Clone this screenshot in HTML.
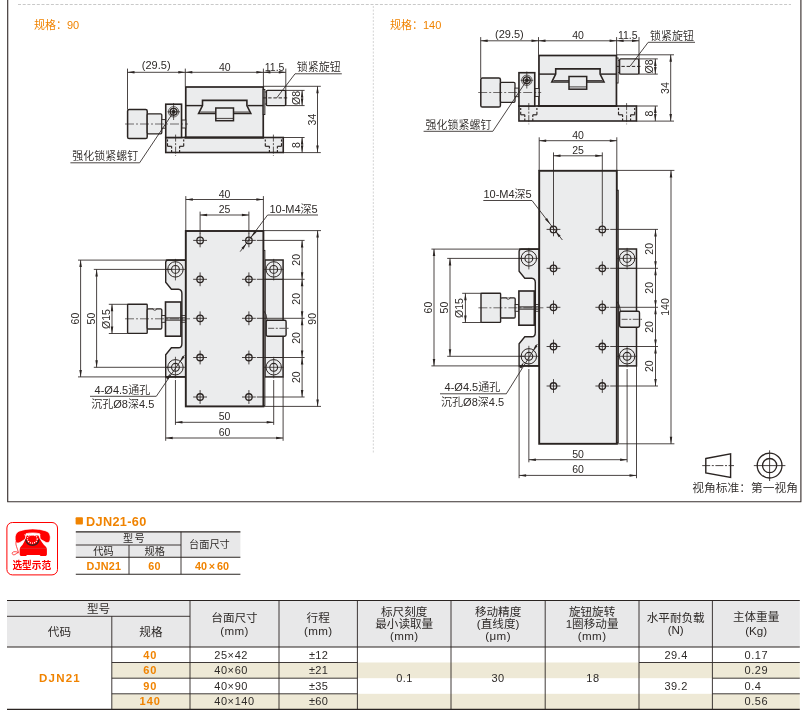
<!DOCTYPE html>
<html lang="zh-CN"><head><meta charset="utf-8"><title>DJN21</title>
<style>html,body{margin:0;padding:0;background:#fff}body{width:808px;height:720px;overflow:hidden}svg{display:block;will-change:transform}</style>
</head><body>
<svg width="808" height="720" viewBox="0 0 808 720" font-family='"Liberation Sans","Noto Sans CJK SC",sans-serif' stroke="#2a2422" fill="none">
<rect width="808" height="720" fill="#fff" stroke="none"/>
<path d="M7.7 0V501.7H800.9V0" fill="none" stroke="#3a3230" stroke-width="1.15" stroke-linejoin="round"/>
<path d="M18 4.5H791" stroke="#c9c9c9" stroke-width="1.1" stroke-dasharray="3 1.7"/>
<path d="M373.3 6V453" stroke="#d4d4d4" stroke-width="1.0" stroke-dasharray="2 1.5"/>
<text x="34.00" y="29.20" font-size="11" text-anchor="start" fill="#f08300" stroke="none" >规格：90</text>
<text x="390.00" y="29.20" font-size="11" text-anchor="start" fill="#f08300" stroke="none" >规格：140</text>
<g>
<rect x="165.75" y="137.5" width="117.5" height="15" fill="#ebeced" stroke-width="1.6"/>
<rect x="185.75" y="87" width="77.5" height="50.5" fill="#ebeced" stroke-width="1.7"/>
<path d="M184.50 137.50L264.00 137.50" stroke-width="2.0" />
<rect x="263.25" y="89.5" width="1.6" height="25" fill="#ebeced" stroke-width="1.0"/>
<path d="M185.75 105.60L202.00 105.60" stroke-width="1.45" />
<path d="M247.60 105.60L263.25 105.60" stroke-width="1.45" />
<path d="M202.5 100.4H246.9V105.6L250.8 113.5H198.6L202.5 105.6Z" fill="#ebeced" stroke-width="1.6"/>
<path d="M200.30 112.00L249.20 112.00" stroke-width="0.85" />
<rect x="215.8" y="108" width="17.7" height="12.7" fill="#ebeced" stroke-width="1.5"/>
<path d="M215.80 118.40L233.50 118.40" stroke-width="0.85" />
<rect x="127.6" y="109.5" width="19.6" height="29" rx="1.6" fill="#ebeced" stroke-width="1.5"/>
<rect x="147.2" y="113.8" width="14.6" height="20" rx="1.2" fill="#ebeced" stroke-width="1.3"/>
<rect x="161.8" y="119.6" width="4" height="8.6" fill="#ebeced" stroke-width="0.9"/>
<rect x="181.6" y="120" width="4.2" height="8" fill="#ebeced" stroke-width="0.9"/>
<rect x="165.75" y="104.2" width="15.8" height="33.3" fill="#ebeced" stroke-width="1.6"/>
<circle cx="173.6" cy="111.8" r="5.2" fill="none" stroke-width="0.7"/>
<circle cx="173.6" cy="111.8" r="3.4" fill="none" stroke-width="1.4"/>
<circle cx="173.6" cy="111.8" r="1.7" fill="#2a2422" stroke-width="0.7"/>
<path d="M173.60 103.00L173.60 120.00" stroke-width="0.75" />
<path d="M167.50 111.80L180.00 111.80" stroke-width="0.75" />
<path d="M125.00 124.00L188.00 124.00" stroke-width="0.65" stroke-dasharray="9 2 2 2"/>
<path d="M167.50 139.40L167.50 141.60" stroke-width="1.15" />
<path d="M167.50 143.20L167.50 146.30" stroke-width="1.15" />
<path d="M167.50 146.30L171.60 146.30" stroke-width="1.15" />
<path d="M171.60 146.30L171.60 148.40" stroke-width="1.15" />
<path d="M171.60 150.00L171.60 152.50" stroke-width="1.15" />
<path d="M183.70 139.40L183.70 141.60" stroke-width="1.15" />
<path d="M183.70 143.20L183.70 146.30" stroke-width="1.15" />
<path d="M183.70 146.30L179.60 146.30" stroke-width="1.15" />
<path d="M179.60 146.30L179.60 148.40" stroke-width="1.15" />
<path d="M179.60 150.00L179.60 152.50" stroke-width="1.15" />
<path d="M175.60 134.60L175.60 155.80" stroke-width="0.75" stroke-dasharray="7 1.5 2 1.5"/>
<path d="M265.30 139.40L265.30 141.60" stroke-width="1.15" />
<path d="M265.30 143.20L265.30 146.30" stroke-width="1.15" />
<path d="M265.30 146.30L269.40 146.30" stroke-width="1.15" />
<path d="M269.40 146.30L269.40 148.40" stroke-width="1.15" />
<path d="M269.40 150.00L269.40 152.50" stroke-width="1.15" />
<path d="M281.50 139.40L281.50 141.60" stroke-width="1.15" />
<path d="M281.50 143.20L281.50 146.30" stroke-width="1.15" />
<path d="M281.50 146.30L277.40 146.30" stroke-width="1.15" />
<path d="M277.40 146.30L277.40 148.40" stroke-width="1.15" />
<path d="M277.40 150.00L277.40 152.50" stroke-width="1.15" />
<path d="M273.40 134.60L273.40 155.80" stroke-width="0.75" stroke-dasharray="7 1.5 2 1.5"/>
<rect x="266.4" y="90.4" width="19.2" height="15.2" rx="1.2" fill="#ebeced" stroke-width="1.4"/>
<path d="M264.90 92.00L266.40 92.00" stroke-width="0.85" />
<path d="M264.90 104.00L266.40 104.00" stroke-width="0.85" />
<path d="M263.00 97.90L289.00 97.90" stroke-width="1.0" stroke-dasharray="3.4 1.8"/>
<path d="M127.50 68.60L127.50 109.40" stroke-width="0.85" />
<path d="M185.30 68.60L185.30 86.40" stroke-width="0.85" />
<path d="M263.40 68.60L263.40 86.40" stroke-width="0.85" />
<path d="M285.80 68.60L285.80 105.50" stroke-width="0.85" />
<path d="M127.50 72.30L185.30 72.30" stroke-width="0.85" />
<path d="M127.50 72.30L134.50 71.05L134.50 73.55Z" fill="#2a2422" stroke="none"/>
<path d="M185.30 72.30L178.30 73.55L178.30 71.05Z" fill="#2a2422" stroke="none"/>
<path d="M185.30 72.30L263.40 72.30" stroke-width="0.85" />
<path d="M185.30 72.30L192.30 71.05L192.30 73.55Z" fill="#2a2422" stroke="none"/>
<path d="M263.40 72.30L256.40 73.55L256.40 71.05Z" fill="#2a2422" stroke="none"/>
<path d="M263.40 72.30L285.80 72.30" stroke-width="0.85" />
<path d="M263.40 72.30L270.40 71.05L270.40 73.55Z" fill="#2a2422" stroke="none"/>
<path d="M285.80 72.30L278.80 73.55L278.80 71.05Z" fill="#2a2422" stroke="none"/>
<text x="156.20" y="69.20" font-size="11" text-anchor="middle" fill="#2e2a28" stroke="none" >(29.5)</text>
<text x="224.80" y="70.50" font-size="10.5" text-anchor="middle" fill="#2e2a28" stroke="none" >40</text>
<text x="274.60" y="70.60" font-size="10.5" text-anchor="middle" fill="#2e2a28" stroke="none" >11.5</text>
<path d="M263.40 86.30L320.80 86.30" stroke-width="0.85" />
<path d="M283.30 152.60L320.80 152.60" stroke-width="0.85" />
<path d="M285.80 90.40L304.60 90.40" stroke-width="0.85" />
<path d="M285.80 105.60L304.60 105.60" stroke-width="0.85" />
<path d="M283.30 137.50L304.60 137.50" stroke-width="0.85" />
<path d="M317.50 86.30L317.50 152.60" stroke-width="0.85" />
<path d="M317.50 86.30L318.75 93.30L316.25 93.30Z" fill="#2a2422" stroke="none"/>
<path d="M317.50 152.60L316.25 145.60L318.75 145.60Z" fill="#2a2422" stroke="none"/>
<path d="M302.10 90.40L302.10 105.60" stroke-width="0.85" />
<path d="M302.10 90.40L303.35 97.40L300.85 97.40Z" fill="#2a2422" stroke="none"/>
<path d="M302.10 105.60L300.85 98.60L303.35 98.60Z" fill="#2a2422" stroke="none"/>
<path d="M302.10 137.50L302.10 152.60" stroke-width="0.85" />
<path d="M302.10 137.50L303.35 144.50L300.85 144.50Z" fill="#2a2422" stroke="none"/>
<path d="M302.10 152.60L300.85 145.60L303.35 145.60Z" fill="#2a2422" stroke="none"/>
<text x="300.00" y="98.00" font-size="10.5" text-anchor="middle" fill="#2e2a28" stroke="none" transform="rotate(-90 300.00 98.00)" >Ø8</text>
<text x="300.00" y="145.00" font-size="10.5" text-anchor="middle" fill="#2e2a28" stroke="none" transform="rotate(-90 300.00 145.00)" >8</text>
<text x="315.70" y="119.60" font-size="10.5" text-anchor="middle" fill="#2e2a28" stroke="none" transform="rotate(-90 315.70 119.60)" >34</text>
<text x="318.70" y="71.40" font-size="11" text-anchor="middle" fill="#2e2a28" stroke="none" font-weight="350" >锁紧旋钮</text>
<path d="M295.00 73.80L341.80 73.80" stroke-width="0.85" />
<path d="M295.00 73.80L276.80 97.80" stroke-width="0.85" />
<text x="105.20" y="160.00" font-size="11" text-anchor="middle" fill="#2e2a28" stroke="none" font-weight="350" >强化锁紧螺钉</text>
<path d="M70.40 162.80L139.60 162.80" stroke-width="0.85" />
<path d="M139.60 162.80L172.60 113.40" stroke-width="0.85" />
</g>
<g>
<path d="M185.75 260.1H168.2Q165.7 260.1 165.7 262.6V282.2L171.4 289.2H178.4Q181.9 289.4 181.9 293.6V343.4Q181.9 347.6 178.4 347.8H171.4L165.7 354.8V376.9H185.75Z" fill="#ebeced" stroke-width="1.4"/>
<path d="M165.70 260.10L185.75 260.10" stroke-width="1.7" />
<path d="M165.70 376.90L185.75 376.90" stroke-width="1.7" />
<rect x="264.9" y="260" width="18.2" height="116.9" fill="#ebeced" stroke-width="1.5"/>
<rect x="263.3" y="250.4" width="1.6" height="154.99999999999997" fill="#ebeced" stroke-width="0.9"/>
<rect x="185.8" y="231" width="77.6" height="175.39999999999998" fill="#ebeced" stroke-width="1.9"/>
<path d="M264.90 279.30L283.10 279.30" stroke-width="0.85" />
<path d="M264.90 357.50L283.10 357.50" stroke-width="0.85" />
<circle cx="175.45" cy="269.40" r="7.7" fill="none" stroke-width="1.0"/>
<circle cx="175.45" cy="269.40" r="3.9" fill="none" stroke-width="1.1"/>
<path d="M165.45 269.40L185.45 269.40" stroke-width="0.75" />
<path d="M175.45 258.90L175.45 280.40" stroke-width="0.75" />
<circle cx="175.45" cy="367.30" r="7.7" fill="none" stroke-width="1.0"/>
<circle cx="175.45" cy="367.30" r="3.9" fill="none" stroke-width="1.1"/>
<path d="M165.45 367.30L185.45 367.30" stroke-width="0.75" />
<path d="M175.45 356.80L175.45 378.30" stroke-width="0.75" />
<circle cx="273.70" cy="269.40" r="7.7" fill="none" stroke-width="1.0"/>
<circle cx="273.70" cy="269.40" r="3.9" fill="none" stroke-width="1.1"/>
<path d="M263.70 269.40L283.70 269.40" stroke-width="0.75" />
<path d="M273.70 258.90L273.70 280.40" stroke-width="0.75" />
<circle cx="273.70" cy="367.30" r="7.7" fill="none" stroke-width="1.0"/>
<circle cx="273.70" cy="367.30" r="3.9" fill="none" stroke-width="1.1"/>
<path d="M263.70 367.30L283.70 367.30" stroke-width="0.75" />
<path d="M273.70 356.80L273.70 378.30" stroke-width="0.75" />
<g transform="translate(0 0)">
<rect x="127.6" y="304.2" width="19.6" height="29.2" rx="0.7" fill="#ebeced" stroke-width="1.4"/>
<rect x="147.2" y="308.8" width="14.6" height="20.2" rx="1.2" fill="#ebeced" stroke-width="1.3"/>
<path d="M153 308.6a1.8 1.6 0 0 0 3.6 0" fill="#fff" stroke-width="0.9"/>
<rect x="161.8" y="315.5" width="3.6" height="6.8" fill="#ebeced" stroke-width="0.9"/>
<rect x="165.5" y="302.0" width="15.4" height="34.2" fill="#ebeced" stroke-width="1.6"/>
<path d="M165.50 317.90L185.50 317.90" stroke-width="1.05" />
<path d="M165.50 320.10L185.50 320.10" stroke-width="1.05" />
<path d="M181.00 315.50L185.50 315.50" stroke-width="0.85" />
<path d="M181.00 322.30L185.50 322.30" stroke-width="0.85" />
<path d="M125.00 318.80L190.00 318.80" stroke-width="0.65" stroke-dasharray="9 2 2 2"/>
<path d="M108.80 304.30L127.60 304.30" stroke-width="0.85" />
<path d="M108.80 333.50L127.60 333.50" stroke-width="0.85" />
<path d="M112.00 304.30L112.00 333.50" stroke-width="0.85" />
<path d="M112.00 304.30L113.25 311.30L110.75 311.30Z" fill="#2a2422" stroke="none"/>
<path d="M112.00 333.50L110.75 326.50L113.25 326.50Z" fill="#2a2422" stroke="none"/>
<text x="110.00" y="319.00" font-size="10.5" text-anchor="middle" fill="#2e2a28" stroke="none" transform="rotate(-90 110.00 319.00)" >Ø15</text>
</g>
<path d="M263.6 310.5Q266.8 314 267 320" fill="none" stroke-width="0.9"/>
<rect x="266.2" y="320.3" width="19.9" height="15.9" rx="1.4" fill="#ebeced" stroke-width="1.4"/>
<path d="M268.20 328.30L288.60 328.30" stroke-width="0.75" stroke-dasharray="6 1.6 2 1.6"/>
<circle cx="200.10" cy="240.40" r="3.25" fill="none" stroke-width="1.3"/>
<path d="M193.20 240.40L207.00 240.40" stroke-width="0.85" />
<path d="M200.10 233.50L200.10 247.30" stroke-width="0.85" />
<circle cx="248.90" cy="240.40" r="3.25" fill="none" stroke-width="1.3"/>
<path d="M242.00 240.40L255.80 240.40" stroke-width="0.85" />
<path d="M248.90 233.50L248.90 247.30" stroke-width="0.85" />
<path d="M256.80 240.40L304.60 240.40" stroke-width="0.85" />
<circle cx="200.10" cy="279.30" r="3.25" fill="none" stroke-width="1.3"/>
<path d="M193.20 279.30L207.00 279.30" stroke-width="0.85" />
<path d="M200.10 272.40L200.10 286.20" stroke-width="0.85" />
<circle cx="248.90" cy="279.30" r="3.25" fill="none" stroke-width="1.3"/>
<path d="M242.00 279.30L255.80 279.30" stroke-width="0.85" />
<path d="M248.90 272.40L248.90 286.20" stroke-width="0.85" />
<path d="M256.80 279.30L304.60 279.30" stroke-width="0.85" />
<circle cx="200.10" cy="318.30" r="3.25" fill="none" stroke-width="1.3"/>
<path d="M193.20 318.30L207.00 318.30" stroke-width="0.85" />
<path d="M200.10 311.40L200.10 325.20" stroke-width="0.85" />
<circle cx="248.90" cy="318.30" r="3.25" fill="none" stroke-width="1.3"/>
<path d="M242.00 318.30L255.80 318.30" stroke-width="0.85" />
<path d="M248.90 311.40L248.90 325.20" stroke-width="0.85" />
<path d="M256.80 318.30L304.60 318.30" stroke-width="0.85" />
<circle cx="200.10" cy="357.50" r="3.25" fill="none" stroke-width="1.3"/>
<path d="M193.20 357.50L207.00 357.50" stroke-width="0.85" />
<path d="M200.10 350.60L200.10 364.40" stroke-width="0.85" />
<circle cx="248.90" cy="357.50" r="3.25" fill="none" stroke-width="1.3"/>
<path d="M242.00 357.50L255.80 357.50" stroke-width="0.85" />
<path d="M248.90 350.60L248.90 364.40" stroke-width="0.85" />
<path d="M256.80 357.50L304.60 357.50" stroke-width="0.85" />
<circle cx="200.10" cy="397.00" r="3.25" fill="none" stroke-width="1.3"/>
<path d="M193.20 397.00L207.00 397.00" stroke-width="0.85" />
<path d="M200.10 390.10L200.10 403.90" stroke-width="0.85" />
<circle cx="248.90" cy="397.00" r="3.25" fill="none" stroke-width="1.3"/>
<path d="M242.00 397.00L255.80 397.00" stroke-width="0.85" />
<path d="M248.90 390.10L248.90 403.90" stroke-width="0.85" />
<path d="M256.80 397.00L304.60 397.00" stroke-width="0.85" />
<path d="M302.10 240.40L302.10 279.30" stroke-width="0.85" />
<path d="M302.10 240.40L303.35 247.40L300.85 247.40Z" fill="#2a2422" stroke="none"/>
<path d="M302.10 279.30L300.85 272.30L303.35 272.30Z" fill="#2a2422" stroke="none"/>
<text x="300.00" y="259.85" font-size="10.5" text-anchor="middle" fill="#2e2a28" stroke="none" transform="rotate(-90 300.00 259.85)" >20</text>
<path d="M302.10 279.30L302.10 318.30" stroke-width="0.85" />
<path d="M302.10 279.30L303.35 286.30L300.85 286.30Z" fill="#2a2422" stroke="none"/>
<path d="M302.10 318.30L300.85 311.30L303.35 311.30Z" fill="#2a2422" stroke="none"/>
<text x="300.00" y="298.80" font-size="10.5" text-anchor="middle" fill="#2e2a28" stroke="none" transform="rotate(-90 300.00 298.80)" >20</text>
<path d="M302.10 318.30L302.10 357.50" stroke-width="0.85" />
<path d="M302.10 318.30L303.35 325.30L300.85 325.30Z" fill="#2a2422" stroke="none"/>
<path d="M302.10 357.50L300.85 350.50L303.35 350.50Z" fill="#2a2422" stroke="none"/>
<text x="300.00" y="337.90" font-size="10.5" text-anchor="middle" fill="#2e2a28" stroke="none" transform="rotate(-90 300.00 337.90)" >20</text>
<path d="M302.10 357.50L302.10 397.00" stroke-width="0.85" />
<path d="M302.10 357.50L303.35 364.50L300.85 364.50Z" fill="#2a2422" stroke="none"/>
<path d="M302.10 397.00L300.85 390.00L303.35 390.00Z" fill="#2a2422" stroke="none"/>
<text x="300.00" y="377.25" font-size="10.5" text-anchor="middle" fill="#2e2a28" stroke="none" transform="rotate(-90 300.00 377.25)" >20</text>
<path d="M263.40 230.60L321.00 230.60" stroke-width="0.85" />
<path d="M263.40 406.40L321.00 406.40" stroke-width="0.85" />
<path d="M317.60 230.60L317.60 406.40" stroke-width="0.85" />
<path d="M317.60 230.60L318.85 237.60L316.35 237.60Z" fill="#2a2422" stroke="none"/>
<path d="M317.60 406.40L316.35 399.40L318.85 399.40Z" fill="#2a2422" stroke="none"/>
<text x="315.80" y="318.80" font-size="10.5" text-anchor="middle" fill="#2e2a28" stroke="none" transform="rotate(-90 315.80 318.80)" >90</text>
<path d="M78.00 260.10L165.70 260.10" stroke-width="0.85" />
<path d="M78.00 376.90L165.70 376.90" stroke-width="0.85" />
<path d="M93.80 269.40L171.00 269.40" stroke-width="0.85" />
<path d="M93.80 367.30L171.00 367.30" stroke-width="0.85" />
<path d="M80.60 260.10L80.60 376.90" stroke-width="0.85" />
<path d="M80.60 260.10L81.85 267.10L79.35 267.10Z" fill="#2a2422" stroke="none"/>
<path d="M80.60 376.90L79.35 369.90L81.85 369.90Z" fill="#2a2422" stroke="none"/>
<path d="M96.60 269.40L96.60 367.30" stroke-width="0.85" />
<path d="M96.60 269.40L97.85 276.40L95.35 276.40Z" fill="#2a2422" stroke="none"/>
<path d="M96.60 367.30L95.35 360.30L97.85 360.30Z" fill="#2a2422" stroke="none"/>
<text x="78.80" y="318.60" font-size="10.5" text-anchor="middle" fill="#2e2a28" stroke="none" transform="rotate(-90 78.80 318.60)" >60</text>
<text x="94.60" y="318.60" font-size="10.5" text-anchor="middle" fill="#2e2a28" stroke="none" transform="rotate(-90 94.60 318.60)" >50</text>
<path d="M185.80 196.10L185.80 231.00" stroke-width="0.85" />
<path d="M263.40 196.10L263.40 231.00" stroke-width="0.85" />
<path d="M185.80 199.50L263.40 199.50" stroke-width="0.85" />
<path d="M185.80 199.50L192.80 198.25L192.80 200.75Z" fill="#2a2422" stroke="none"/>
<path d="M263.40 199.50L256.40 200.75L256.40 198.25Z" fill="#2a2422" stroke="none"/>
<text x="224.60" y="197.80" font-size="10.5" text-anchor="middle" fill="#2e2a28" stroke="none" >40</text>
<path d="M200.10 211.60L200.10 234.00" stroke-width="0.85" />
<path d="M248.90 211.60L248.90 234.00" stroke-width="0.85" />
<path d="M200.10 215.00L248.90 215.00" stroke-width="0.85" />
<path d="M200.10 215.00L207.10 213.75L207.10 216.25Z" fill="#2a2422" stroke="none"/>
<path d="M248.90 215.00L241.90 216.25L241.90 213.75Z" fill="#2a2422" stroke="none"/>
<text x="224.60" y="213.30" font-size="10.5" text-anchor="middle" fill="#2e2a28" stroke="none" >25</text>
<path d="M175.45 380.00L175.45 424.90" stroke-width="0.85" />
<path d="M273.70 380.00L273.70 424.90" stroke-width="0.85" />
<path d="M175.45 422.30L273.70 422.30" stroke-width="0.85" />
<path d="M175.45 422.30L182.45 421.05L182.45 423.55Z" fill="#2a2422" stroke="none"/>
<path d="M273.70 422.30L266.70 423.55L266.70 421.05Z" fill="#2a2422" stroke="none"/>
<text x="224.60" y="420.10" font-size="10.5" text-anchor="middle" fill="#2e2a28" stroke="none" >50</text>
<path d="M165.70 377.00L165.70 440.80" stroke-width="0.85" />
<path d="M283.10 377.00L283.10 440.80" stroke-width="0.85" />
<path d="M165.70 438.00L283.10 438.00" stroke-width="0.85" />
<path d="M165.70 438.00L172.70 436.75L172.70 439.25Z" fill="#2a2422" stroke="none"/>
<path d="M283.10 438.00L276.10 439.25L276.10 436.75Z" fill="#2a2422" stroke="none"/>
<text x="224.60" y="435.80" font-size="10.5" text-anchor="middle" fill="#2e2a28" stroke="none" >60</text>
</g>
<text x="293.60" y="212.80" font-size="11" text-anchor="middle" fill="#2e2a28" stroke="none" font-weight="350" >10-M4深5</text>
<path d="M267.60 215.00L318.00 215.00" stroke-width="0.85" />
<path d="M267.60 215.00L240.20 251.60" stroke-width="0.85" />
<path d="M246.60 243.20L243.39 249.55L241.39 248.04Z" fill="#2a2422" stroke="none"/>
<path d="M251.30 237.20L254.51 230.85L256.51 232.36Z" fill="#2a2422" stroke="none"/>
<text x="122.40" y="393.60" font-size="11" text-anchor="middle" fill="#2e2a28" stroke="none" font-weight="350" >4-Ø4.5通孔</text>
<path d="M90.00 396.30L156.30 396.30" stroke-width="0.85" />
<path d="M156.30 396.30L184.40 355.20" stroke-width="0.85" />
<path d="M179.60 362.40L182.44 355.88L184.52 357.27Z" fill="#2a2422" stroke="none"/>
<path d="M170.90 372.90L168.16 379.46L166.05 378.10Z" fill="#2a2422" stroke="none"/>
<text x="122.80" y="408.20" font-size="11" text-anchor="middle" fill="#2e2a28" stroke="none" font-weight="350" >沉孔Ø8深4.5</text>
<g transform="translate(353.2 -31.5)">
<g>
<rect x="165.75" y="137.5" width="117.5" height="15" fill="#ebeced" stroke-width="1.6"/>
<rect x="185.75" y="87" width="77.5" height="50.5" fill="#ebeced" stroke-width="1.7"/>
<path d="M184.50 137.50L264.00 137.50" stroke-width="2.0" />
<rect x="263.25" y="89.5" width="1.6" height="25" fill="#ebeced" stroke-width="1.0"/>
<path d="M185.75 105.60L202.00 105.60" stroke-width="1.45" />
<path d="M247.60 105.60L263.25 105.60" stroke-width="1.45" />
<path d="M202.5 100.4H246.9V105.6L250.8 113.5H198.6L202.5 105.6Z" fill="#ebeced" stroke-width="1.6"/>
<path d="M200.30 112.00L249.20 112.00" stroke-width="0.85" />
<rect x="215.8" y="108" width="17.7" height="12.7" fill="#ebeced" stroke-width="1.5"/>
<path d="M215.80 118.40L233.50 118.40" stroke-width="0.85" />
<rect x="127.6" y="109.5" width="19.6" height="29" rx="1.6" fill="#ebeced" stroke-width="1.5"/>
<rect x="147.2" y="113.8" width="14.6" height="20" rx="1.2" fill="#ebeced" stroke-width="1.3"/>
<rect x="161.8" y="119.6" width="4" height="8.6" fill="#ebeced" stroke-width="0.9"/>
<rect x="181.6" y="120" width="4.2" height="8" fill="#ebeced" stroke-width="0.9"/>
<rect x="165.75" y="104.2" width="15.8" height="33.3" fill="#ebeced" stroke-width="1.6"/>
<circle cx="173.6" cy="111.8" r="5.2" fill="none" stroke-width="0.7"/>
<circle cx="173.6" cy="111.8" r="3.4" fill="none" stroke-width="1.4"/>
<circle cx="173.6" cy="111.8" r="1.7" fill="#2a2422" stroke-width="0.7"/>
<path d="M173.60 103.00L173.60 120.00" stroke-width="0.75" />
<path d="M167.50 111.80L180.00 111.80" stroke-width="0.75" />
<path d="M125.00 124.00L188.00 124.00" stroke-width="0.65" stroke-dasharray="9 2 2 2"/>
<path d="M167.50 139.40L167.50 141.60" stroke-width="1.15" />
<path d="M167.50 143.20L167.50 146.30" stroke-width="1.15" />
<path d="M167.50 146.30L171.60 146.30" stroke-width="1.15" />
<path d="M171.60 146.30L171.60 148.40" stroke-width="1.15" />
<path d="M171.60 150.00L171.60 152.50" stroke-width="1.15" />
<path d="M183.70 139.40L183.70 141.60" stroke-width="1.15" />
<path d="M183.70 143.20L183.70 146.30" stroke-width="1.15" />
<path d="M183.70 146.30L179.60 146.30" stroke-width="1.15" />
<path d="M179.60 146.30L179.60 148.40" stroke-width="1.15" />
<path d="M179.60 150.00L179.60 152.50" stroke-width="1.15" />
<path d="M175.60 134.60L175.60 155.80" stroke-width="0.75" stroke-dasharray="7 1.5 2 1.5"/>
<path d="M265.30 139.40L265.30 141.60" stroke-width="1.15" />
<path d="M265.30 143.20L265.30 146.30" stroke-width="1.15" />
<path d="M265.30 146.30L269.40 146.30" stroke-width="1.15" />
<path d="M269.40 146.30L269.40 148.40" stroke-width="1.15" />
<path d="M269.40 150.00L269.40 152.50" stroke-width="1.15" />
<path d="M281.50 139.40L281.50 141.60" stroke-width="1.15" />
<path d="M281.50 143.20L281.50 146.30" stroke-width="1.15" />
<path d="M281.50 146.30L277.40 146.30" stroke-width="1.15" />
<path d="M277.40 146.30L277.40 148.40" stroke-width="1.15" />
<path d="M277.40 150.00L277.40 152.50" stroke-width="1.15" />
<path d="M273.40 134.60L273.40 155.80" stroke-width="0.75" stroke-dasharray="7 1.5 2 1.5"/>
<rect x="266.4" y="90.4" width="19.2" height="15.2" rx="1.2" fill="#ebeced" stroke-width="1.4"/>
<path d="M264.90 92.00L266.40 92.00" stroke-width="0.85" />
<path d="M264.90 104.00L266.40 104.00" stroke-width="0.85" />
<path d="M263.00 97.90L289.00 97.90" stroke-width="1.0" stroke-dasharray="3.4 1.8"/>
<path d="M127.50 68.60L127.50 109.40" stroke-width="0.85" />
<path d="M185.30 68.60L185.30 86.40" stroke-width="0.85" />
<path d="M263.40 68.60L263.40 86.40" stroke-width="0.85" />
<path d="M285.80 68.60L285.80 105.50" stroke-width="0.85" />
<path d="M127.50 72.30L185.30 72.30" stroke-width="0.85" />
<path d="M127.50 72.30L134.50 71.05L134.50 73.55Z" fill="#2a2422" stroke="none"/>
<path d="M185.30 72.30L178.30 73.55L178.30 71.05Z" fill="#2a2422" stroke="none"/>
<path d="M185.30 72.30L263.40 72.30" stroke-width="0.85" />
<path d="M185.30 72.30L192.30 71.05L192.30 73.55Z" fill="#2a2422" stroke="none"/>
<path d="M263.40 72.30L256.40 73.55L256.40 71.05Z" fill="#2a2422" stroke="none"/>
<path d="M263.40 72.30L285.80 72.30" stroke-width="0.85" />
<path d="M263.40 72.30L270.40 71.05L270.40 73.55Z" fill="#2a2422" stroke="none"/>
<path d="M285.80 72.30L278.80 73.55L278.80 71.05Z" fill="#2a2422" stroke="none"/>
<text x="156.20" y="69.20" font-size="11" text-anchor="middle" fill="#2e2a28" stroke="none" >(29.5)</text>
<text x="224.80" y="70.50" font-size="10.5" text-anchor="middle" fill="#2e2a28" stroke="none" >40</text>
<text x="274.60" y="70.60" font-size="10.5" text-anchor="middle" fill="#2e2a28" stroke="none" >11.5</text>
<path d="M263.40 86.30L320.80 86.30" stroke-width="0.85" />
<path d="M283.30 152.60L320.80 152.60" stroke-width="0.85" />
<path d="M285.80 90.40L304.60 90.40" stroke-width="0.85" />
<path d="M285.80 105.60L304.60 105.60" stroke-width="0.85" />
<path d="M283.30 137.50L304.60 137.50" stroke-width="0.85" />
<path d="M317.50 86.30L317.50 152.60" stroke-width="0.85" />
<path d="M317.50 86.30L318.75 93.30L316.25 93.30Z" fill="#2a2422" stroke="none"/>
<path d="M317.50 152.60L316.25 145.60L318.75 145.60Z" fill="#2a2422" stroke="none"/>
<path d="M302.10 90.40L302.10 105.60" stroke-width="0.85" />
<path d="M302.10 90.40L303.35 97.40L300.85 97.40Z" fill="#2a2422" stroke="none"/>
<path d="M302.10 105.60L300.85 98.60L303.35 98.60Z" fill="#2a2422" stroke="none"/>
<path d="M302.10 137.50L302.10 152.60" stroke-width="0.85" />
<path d="M302.10 137.50L303.35 144.50L300.85 144.50Z" fill="#2a2422" stroke="none"/>
<path d="M302.10 152.60L300.85 145.60L303.35 145.60Z" fill="#2a2422" stroke="none"/>
<text x="300.00" y="98.00" font-size="10.5" text-anchor="middle" fill="#2e2a28" stroke="none" transform="rotate(-90 300.00 98.00)" >Ø8</text>
<text x="300.00" y="145.00" font-size="10.5" text-anchor="middle" fill="#2e2a28" stroke="none" transform="rotate(-90 300.00 145.00)" >8</text>
<text x="315.70" y="119.60" font-size="10.5" text-anchor="middle" fill="#2e2a28" stroke="none" transform="rotate(-90 315.70 119.60)" >34</text>
<text x="318.70" y="71.40" font-size="11" text-anchor="middle" fill="#2e2a28" stroke="none" font-weight="350" >锁紧旋钮</text>
<path d="M295.00 73.80L341.80 73.80" stroke-width="0.85" />
<path d="M295.00 73.80L276.80 97.80" stroke-width="0.85" />
<text x="105.20" y="160.00" font-size="11" text-anchor="middle" fill="#2e2a28" stroke="none" font-weight="350" >强化锁紧螺钉</text>
<path d="M70.40 162.80L139.60 162.80" stroke-width="0.85" />
<path d="M139.60 162.80L172.60 113.40" stroke-width="0.85" />
</g>
</g>
<g>
<path d="M539.15 249.10000000000002H521.5999999999999Q519.0999999999999 249.10000000000002 519.0999999999999 251.60000000000002V271.2L524.8 278.2H531.8Q535.3 278.4 535.3 282.6V332.4Q535.3 336.6 531.8 336.8H524.8L519.0999999999999 343.8V365.9H539.15Z" fill="#ebeced" stroke-width="1.4"/>
<path d="M519.10 249.10L539.15 249.10" stroke-width="1.7" />
<path d="M519.10 365.90L539.15 365.90" stroke-width="1.7" />
<rect x="618.3" y="249" width="18.2" height="116.9" fill="#ebeced" stroke-width="1.5"/>
<rect x="616.7" y="190.20000000000002" width="1.6" height="252.6" fill="#ebeced" stroke-width="0.9"/>
<rect x="539.2" y="170.8" width="77.6" height="273.0" fill="#ebeced" stroke-width="1.9"/>
<path d="M618.30 268.30L636.50 268.30" stroke-width="0.85" />
<path d="M618.30 346.50L636.50 346.50" stroke-width="0.85" />
<circle cx="528.85" cy="258.40" r="7.7" fill="none" stroke-width="1.0"/>
<circle cx="528.85" cy="258.40" r="3.9" fill="none" stroke-width="1.1"/>
<path d="M518.85 258.40L538.85 258.40" stroke-width="0.75" />
<path d="M528.85 247.90L528.85 269.40" stroke-width="0.75" />
<circle cx="528.85" cy="356.30" r="7.7" fill="none" stroke-width="1.0"/>
<circle cx="528.85" cy="356.30" r="3.9" fill="none" stroke-width="1.1"/>
<path d="M518.85 356.30L538.85 356.30" stroke-width="0.75" />
<path d="M528.85 345.80L528.85 367.30" stroke-width="0.75" />
<circle cx="627.10" cy="258.40" r="7.7" fill="none" stroke-width="1.0"/>
<circle cx="627.10" cy="258.40" r="3.9" fill="none" stroke-width="1.1"/>
<path d="M617.10 258.40L637.10 258.40" stroke-width="0.75" />
<path d="M627.10 247.90L627.10 269.40" stroke-width="0.75" />
<circle cx="627.10" cy="356.30" r="7.7" fill="none" stroke-width="1.0"/>
<circle cx="627.10" cy="356.30" r="3.9" fill="none" stroke-width="1.1"/>
<path d="M617.10 356.30L637.10 356.30" stroke-width="0.75" />
<path d="M627.10 345.80L627.10 367.30" stroke-width="0.75" />
<g transform="translate(353.4 -11)">
<rect x="127.6" y="304.2" width="19.6" height="29.2" rx="0.7" fill="#ebeced" stroke-width="1.4"/>
<rect x="147.2" y="308.8" width="14.6" height="20.2" rx="1.2" fill="#ebeced" stroke-width="1.3"/>
<path d="M153 308.6a1.8 1.6 0 0 0 3.6 0" fill="#fff" stroke-width="0.9"/>
<rect x="161.8" y="315.5" width="3.6" height="6.8" fill="#ebeced" stroke-width="0.9"/>
<rect x="165.5" y="302.0" width="15.4" height="34.2" fill="#ebeced" stroke-width="1.6"/>
<path d="M165.50 317.90L185.50 317.90" stroke-width="1.05" />
<path d="M165.50 320.10L185.50 320.10" stroke-width="1.05" />
<path d="M181.00 315.50L185.50 315.50" stroke-width="0.85" />
<path d="M181.00 322.30L185.50 322.30" stroke-width="0.85" />
<path d="M125.00 318.80L190.00 318.80" stroke-width="0.65" stroke-dasharray="9 2 2 2"/>
<path d="M108.80 304.30L127.60 304.30" stroke-width="0.85" />
<path d="M108.80 333.50L127.60 333.50" stroke-width="0.85" />
<path d="M112.00 304.30L112.00 333.50" stroke-width="0.85" />
<path d="M112.00 304.30L113.25 311.30L110.75 311.30Z" fill="#2a2422" stroke="none"/>
<path d="M112.00 333.50L110.75 326.50L113.25 326.50Z" fill="#2a2422" stroke="none"/>
<text x="110.00" y="319.00" font-size="10.5" text-anchor="middle" fill="#2e2a28" stroke="none" transform="rotate(-90 110.00 319.00)" >Ø15</text>
</g>
<path d="M617.0 301.5Q620.2 305 620.4 311" fill="none" stroke-width="0.9"/>
<rect x="619.5999999999999" y="311.3" width="19.9" height="15.9" rx="1.4" fill="#ebeced" stroke-width="1.4"/>
<path d="M621.60 319.30L642.00 319.30" stroke-width="0.75" stroke-dasharray="6 1.6 2 1.6"/>
<circle cx="553.50" cy="229.40" r="3.25" fill="none" stroke-width="1.3"/>
<path d="M546.60 229.40L560.40 229.40" stroke-width="0.85" />
<path d="M553.50 222.50L553.50 236.30" stroke-width="0.85" />
<circle cx="602.30" cy="229.40" r="3.25" fill="none" stroke-width="1.3"/>
<path d="M595.40 229.40L609.20 229.40" stroke-width="0.85" />
<path d="M602.30 222.50L602.30 236.30" stroke-width="0.85" />
<path d="M610.20 229.40L658.00 229.40" stroke-width="0.85" />
<circle cx="553.50" cy="268.30" r="3.25" fill="none" stroke-width="1.3"/>
<path d="M546.60 268.30L560.40 268.30" stroke-width="0.85" />
<path d="M553.50 261.40L553.50 275.20" stroke-width="0.85" />
<circle cx="602.30" cy="268.30" r="3.25" fill="none" stroke-width="1.3"/>
<path d="M595.40 268.30L609.20 268.30" stroke-width="0.85" />
<path d="M602.30 261.40L602.30 275.20" stroke-width="0.85" />
<path d="M610.20 268.30L658.00 268.30" stroke-width="0.85" />
<circle cx="553.50" cy="307.30" r="3.25" fill="none" stroke-width="1.3"/>
<path d="M546.60 307.30L560.40 307.30" stroke-width="0.85" />
<path d="M553.50 300.40L553.50 314.20" stroke-width="0.85" />
<circle cx="602.30" cy="307.30" r="3.25" fill="none" stroke-width="1.3"/>
<path d="M595.40 307.30L609.20 307.30" stroke-width="0.85" />
<path d="M602.30 300.40L602.30 314.20" stroke-width="0.85" />
<path d="M610.20 307.30L658.00 307.30" stroke-width="0.85" />
<circle cx="553.50" cy="346.50" r="3.25" fill="none" stroke-width="1.3"/>
<path d="M546.60 346.50L560.40 346.50" stroke-width="0.85" />
<path d="M553.50 339.60L553.50 353.40" stroke-width="0.85" />
<circle cx="602.30" cy="346.50" r="3.25" fill="none" stroke-width="1.3"/>
<path d="M595.40 346.50L609.20 346.50" stroke-width="0.85" />
<path d="M602.30 339.60L602.30 353.40" stroke-width="0.85" />
<path d="M610.20 346.50L658.00 346.50" stroke-width="0.85" />
<circle cx="553.50" cy="386.00" r="3.25" fill="none" stroke-width="1.3"/>
<path d="M546.60 386.00L560.40 386.00" stroke-width="0.85" />
<path d="M553.50 379.10L553.50 392.90" stroke-width="0.85" />
<circle cx="602.30" cy="386.00" r="3.25" fill="none" stroke-width="1.3"/>
<path d="M595.40 386.00L609.20 386.00" stroke-width="0.85" />
<path d="M602.30 379.10L602.30 392.90" stroke-width="0.85" />
<path d="M610.20 386.00L658.00 386.00" stroke-width="0.85" />
<path d="M655.50 229.40L655.50 268.30" stroke-width="0.85" />
<path d="M655.50 229.40L656.75 236.40L654.25 236.40Z" fill="#2a2422" stroke="none"/>
<path d="M655.50 268.30L654.25 261.30L656.75 261.30Z" fill="#2a2422" stroke="none"/>
<text x="653.40" y="248.85" font-size="10.5" text-anchor="middle" fill="#2e2a28" stroke="none" transform="rotate(-90 653.40 248.85)" >20</text>
<path d="M655.50 268.30L655.50 307.30" stroke-width="0.85" />
<path d="M655.50 268.30L656.75 275.30L654.25 275.30Z" fill="#2a2422" stroke="none"/>
<path d="M655.50 307.30L654.25 300.30L656.75 300.30Z" fill="#2a2422" stroke="none"/>
<text x="653.40" y="287.80" font-size="10.5" text-anchor="middle" fill="#2e2a28" stroke="none" transform="rotate(-90 653.40 287.80)" >20</text>
<path d="M655.50 307.30L655.50 346.50" stroke-width="0.85" />
<path d="M655.50 307.30L656.75 314.30L654.25 314.30Z" fill="#2a2422" stroke="none"/>
<path d="M655.50 346.50L654.25 339.50L656.75 339.50Z" fill="#2a2422" stroke="none"/>
<text x="653.40" y="326.90" font-size="10.5" text-anchor="middle" fill="#2e2a28" stroke="none" transform="rotate(-90 653.40 326.90)" >20</text>
<path d="M655.50 346.50L655.50 386.00" stroke-width="0.85" />
<path d="M655.50 346.50L656.75 353.50L654.25 353.50Z" fill="#2a2422" stroke="none"/>
<path d="M655.50 386.00L654.25 379.00L656.75 379.00Z" fill="#2a2422" stroke="none"/>
<text x="653.40" y="366.25" font-size="10.5" text-anchor="middle" fill="#2e2a28" stroke="none" transform="rotate(-90 653.40 366.25)" >20</text>
<path d="M616.80 170.40L674.40 170.40" stroke-width="0.85" />
<path d="M616.80 443.80L674.40 443.80" stroke-width="0.85" />
<path d="M671.00 170.40L671.00 443.80" stroke-width="0.85" />
<path d="M671.00 170.40L672.25 177.40L669.75 177.40Z" fill="#2a2422" stroke="none"/>
<path d="M671.00 443.80L669.75 436.80L672.25 436.80Z" fill="#2a2422" stroke="none"/>
<text x="669.20" y="307.00" font-size="10.5" text-anchor="middle" fill="#2e2a28" stroke="none" transform="rotate(-90 669.20 307.00)" >140</text>
<path d="M431.40 249.10L519.10 249.10" stroke-width="0.85" />
<path d="M431.40 365.90L519.10 365.90" stroke-width="0.85" />
<path d="M447.20 258.40L524.40 258.40" stroke-width="0.85" />
<path d="M447.20 356.30L524.40 356.30" stroke-width="0.85" />
<path d="M434.00 249.10L434.00 365.90" stroke-width="0.85" />
<path d="M434.00 249.10L435.25 256.10L432.75 256.10Z" fill="#2a2422" stroke="none"/>
<path d="M434.00 365.90L432.75 358.90L435.25 358.90Z" fill="#2a2422" stroke="none"/>
<path d="M450.00 258.40L450.00 356.30" stroke-width="0.85" />
<path d="M450.00 258.40L451.25 265.40L448.75 265.40Z" fill="#2a2422" stroke="none"/>
<path d="M450.00 356.30L448.75 349.30L451.25 349.30Z" fill="#2a2422" stroke="none"/>
<text x="432.20" y="307.60" font-size="10.5" text-anchor="middle" fill="#2e2a28" stroke="none" transform="rotate(-90 432.20 307.60)" >60</text>
<text x="448.00" y="307.60" font-size="10.5" text-anchor="middle" fill="#2e2a28" stroke="none" transform="rotate(-90 448.00 307.60)" >50</text>
<path d="M539.20 137.30L539.20 170.80" stroke-width="0.85" />
<path d="M616.80 137.30L616.80 170.80" stroke-width="0.85" />
<path d="M539.20 140.70L616.80 140.70" stroke-width="0.85" />
<path d="M539.20 140.70L546.20 139.45L546.20 141.95Z" fill="#2a2422" stroke="none"/>
<path d="M616.80 140.70L609.80 141.95L609.80 139.45Z" fill="#2a2422" stroke="none"/>
<text x="578.00" y="139.00" font-size="10.5" text-anchor="middle" fill="#2e2a28" stroke="none" >40</text>
<path d="M553.50 152.40L553.50 223.00" stroke-width="0.85" />
<path d="M602.30 152.40L602.30 223.00" stroke-width="0.85" />
<path d="M553.50 155.80L602.30 155.80" stroke-width="0.85" />
<path d="M553.50 155.80L560.50 154.55L560.50 157.05Z" fill="#2a2422" stroke="none"/>
<path d="M602.30 155.80L595.30 157.05L595.30 154.55Z" fill="#2a2422" stroke="none"/>
<text x="578.00" y="154.10" font-size="10.5" text-anchor="middle" fill="#2e2a28" stroke="none" >25</text>
<path d="M528.85 369.00L528.85 462.30" stroke-width="0.85" />
<path d="M627.10 369.00L627.10 462.30" stroke-width="0.85" />
<path d="M528.85 459.70L627.10 459.70" stroke-width="0.85" />
<path d="M528.85 459.70L535.85 458.45L535.85 460.95Z" fill="#2a2422" stroke="none"/>
<path d="M627.10 459.70L620.10 460.95L620.10 458.45Z" fill="#2a2422" stroke="none"/>
<text x="578.00" y="457.50" font-size="10.5" text-anchor="middle" fill="#2e2a28" stroke="none" >50</text>
<path d="M519.10 366.00L519.10 478.20" stroke-width="0.85" />
<path d="M636.50 366.00L636.50 478.20" stroke-width="0.85" />
<path d="M519.10 475.40L636.50 475.40" stroke-width="0.85" />
<path d="M519.10 475.40L526.10 474.15L526.10 476.65Z" fill="#2a2422" stroke="none"/>
<path d="M636.50 475.40L629.50 476.65L629.50 474.15Z" fill="#2a2422" stroke="none"/>
<text x="578.00" y="473.20" font-size="10.5" text-anchor="middle" fill="#2e2a28" stroke="none" >60</text>
</g>
<text x="507.60" y="198.30" font-size="11" text-anchor="middle" fill="#2e2a28" stroke="none" font-weight="350" >10-M4深5</text>
<path d="M483.30 200.50L532.00 200.50" stroke-width="0.85" />
<path d="M532.00 200.50L562.40 240.00" stroke-width="0.85" />
<path d="M550.30 224.20L545.04 219.41L547.02 217.89Z" fill="#2a2422" stroke="none"/>
<path d="M555.40 231.00L560.66 235.79L558.68 237.31Z" fill="#2a2422" stroke="none"/>
<text x="472.40" y="391.20" font-size="11" text-anchor="middle" fill="#2e2a28" stroke="none" font-weight="350" >4-Ø4.5通孔</text>
<path d="M440.00 393.80L506.30 393.80" stroke-width="0.85" />
<path d="M506.30 393.80L537.40 344.00" stroke-width="0.85" />
<path d="M532.60 351.40L535.44 344.88L537.52 346.27Z" fill="#2a2422" stroke="none"/>
<path d="M523.90 361.90L521.51 368.60L519.34 367.36Z" fill="#2a2422" stroke="none"/>
<text x="472.60" y="406.20" font-size="11" text-anchor="middle" fill="#2e2a28" stroke="none" font-weight="350" >沉孔Ø8深4.5</text>
<path d="M705.8 458.5L730.6 453.9V477.4L705.8 473Z" fill="none" stroke-width="1.4"/>
<path d="M702.20 465.60L734.00 465.60" stroke-width="0.85" stroke-dasharray="8 1.6 2 1.6"/>
<circle cx="769.6" cy="465.6" r="12.4" stroke-width="1.3"/><circle cx="769.6" cy="465.6" r="7.1" stroke-width="1.3"/>
<path d="M753.80 465.60L785.40 465.60" stroke-width="0.85" />
<path d="M769.60 450.30L769.60 481.00" stroke-width="0.85" />
<text x="692.20" y="491.80" font-size="11.75" text-anchor="start" fill="#2e2a28" stroke="none" font-weight="350" >视角标准：第一视角</text>
<rect x="6.9" y="522.5" width="50.6" height="52.4" rx="5.5" fill="#fff" stroke="#ff0000" stroke-width="1"/>
<g fill="#ff0000" stroke="none">
<path d="M26.6 535.6L38.4 535.6C40.4 541 43.4 544.6 45.6 546.6C46.6 547.6 46.9 548.8 46.9 550.2V554.2C46.9 555.4 46.2 556 45 556H40.6L39.6 554.9H27L26 556H21.6C20.4 556 19.7 555.4 19.7 554.2V550.2C19.7 548.8 20 547.6 21 546.6C23.2 544.6 25 541 26.6 535.6Z"/>
<path d="M15.6 541.4C14.4 536.6 15.6 532.4 19.6 531C27.5 528.2 38 528.2 46 531C50 532.4 51 536.6 49.8 541C49.3 542.8 47 543 45.6 542.2L41 539.6C39.8 538.8 40 536 39.6 533.7C35.4 532.7 30 532.7 26 533.7C25.6 536 25.8 538.8 24.6 539.6L20 542.4C18.4 543.2 16.2 543.2 15.6 541.4Z" stroke="#fff" stroke-width="0.7"/>
</g>
<path d="M25.9 539.6A6.5 5.6 0 0 0 38.9 539.6" fill="none" stroke="#402020" stroke-width="1.5"/>
<ellipse cx="32.3" cy="538.9" rx="4.9" ry="4.2" fill="none" stroke="#fff" stroke-width="1.3" stroke-dasharray="1 1.1"/>
<path d="M24.6 534.4l1 1.6M40 534.4l-1 1.6" stroke="#fff" stroke-width="0.8" fill="none"/>
<path d="M20.00 548.40L46.60 548.40" stroke-width="0.5" stroke="#c85050"/>
<path d="M16 541.5C15.2 545 17.4 548 18.4 552.4C17.2 553 16 554 14.8 554.6C13.2 555.4 11.6 554 12.4 552.6C13.4 551.2 16.6 551.4 18.6 552.8" fill="none" stroke="#ff0000" stroke-width="0.7"/>
<text x="31.80" y="569.20" font-size="9.7" text-anchor="middle" fill="#ff0000" stroke="none" font-weight="700" >选型示范</text>
<rect x="75.6" y="517.3" width="7.3" height="7.1" rx="0.9" fill="#f08300" stroke="none"/>
<text x="86.00" y="526.20" font-size="12.7" text-anchor="start" fill="#f08300" stroke="none" font-weight="700" letter-spacing="0.35" >DJN21-60</text>
<rect x="75.8" y="531.8" width="164.6" height="25.4" fill="#e8e8e9" stroke="none"/>
<path d="M75.80 531.80L240.40 531.80" stroke-width="1.3" />
<path d="M75.80 545.00L181.00 545.00" stroke-width="0.9" />
<path d="M75.80 557.20L240.40 557.20" stroke-width="1.1" />
<path d="M75.80 574.20L240.40 574.20" stroke-width="1.1" />
<path d="M129.00 545.00L129.00 574.20" stroke-width="0.9" />
<path d="M181.00 531.80L181.00 574.20" stroke-width="0.9" />
<text x="134.40" y="542.20" font-size="10.2" text-anchor="middle" fill="#2e2a28" stroke="none" font-weight="400" letter-spacing="1.2" >型号</text>
<text x="103.40" y="554.80" font-size="10.2" text-anchor="middle" fill="#2e2a28" stroke="none" font-weight="400" >代码</text>
<text x="154.80" y="554.80" font-size="10.2" text-anchor="middle" fill="#2e2a28" stroke="none" font-weight="400" >规格</text>
<text x="209.40" y="548.30" font-size="10.2" text-anchor="middle" fill="#2e2a28" stroke="none" font-weight="400" >台面尺寸</text>
<text x="103.80" y="570.00" font-size="10.8" text-anchor="middle" fill="#f08300" stroke="none" font-weight="700" letter-spacing="0.2" >DJN21</text>
<text x="154.40" y="570.00" font-size="10.8" text-anchor="middle" fill="#f08300" stroke="none" font-weight="700" letter-spacing="0.2" >60</text>
<text x="212.00" y="570.00" font-size="10.8" text-anchor="middle" fill="#f08300" stroke="none" font-weight="700" word-spacing="-1.2">40 × 60</text>
<rect x="7" y="600.5" width="792.8" height="46.5" fill="#e8e8e9" stroke="none"/>
<rect x="111.8" y="662.5" width="688.0" height="15.700000000000045" fill="#eee9d6" stroke="none"/>
<rect x="111.8" y="693.8" width="688.0" height="15.5" fill="#eee9d6" stroke="none"/>
<path d="M7.00 600.50L799.80 600.50" stroke-width="1.2" />
<path d="M7.00 616.30L190.00 616.30" stroke-width="0.9" />
<path d="M7.00 647.00L799.80 647.00" stroke-width="1.2" />
<path d="M7.00 709.30L799.80 709.30" stroke-width="1.2" />
<path d="M111.80 662.50L357.40 662.50" stroke-width="0.9" />
<path d="M712.40 662.50L799.80 662.50" stroke-width="0.9" />
<path d="M111.80 678.20L357.40 678.20" stroke-width="0.9" />
<path d="M712.40 678.20L799.80 678.20" stroke-width="0.9" />
<path d="M111.80 693.80L357.40 693.80" stroke-width="0.9" />
<path d="M712.40 693.80L799.80 693.80" stroke-width="0.9" />
<path d="M639.00 662.50L712.40 662.50" stroke-width="0.9" />
<path d="M111.80 616.30L111.80 709.30" stroke-width="0.9" />
<path d="M190.00 600.50L190.00 709.30" stroke-width="0.9" />
<path d="M279.00 600.50L279.00 709.30" stroke-width="0.9" />
<path d="M357.40 600.50L357.40 709.30" stroke-width="0.9" />
<path d="M451.00 600.50L451.00 709.30" stroke-width="0.9" />
<path d="M545.20 600.50L545.20 709.30" stroke-width="0.9" />
<path d="M639.00 600.50L639.00 709.30" stroke-width="0.9" />
<path d="M712.40 600.50L712.40 709.30" stroke-width="0.9" />
<text x="98.50" y="612.60" font-size="11.6" text-anchor="middle" fill="#2e2a28" stroke="none" font-weight="400" >型号</text>
<text x="59.40" y="636.40" font-size="11.6" text-anchor="middle" fill="#2e2a28" stroke="none" font-weight="400" >代码</text>
<text x="150.90" y="636.40" font-size="11.6" text-anchor="middle" fill="#2e2a28" stroke="none" font-weight="400" >规格</text>
<text x="234.50" y="622.40" font-size="11.6" text-anchor="middle" fill="#2e2a28" stroke="none" font-weight="400" >台面尺寸</text>
<text x="234.50" y="635.40" font-size="11.6" text-anchor="middle" fill="#2e2a28" stroke="none" letter-spacing="0.4" >(mm)</text>
<text x="318.20" y="622.40" font-size="11.6" text-anchor="middle" fill="#2e2a28" stroke="none" font-weight="400" >行程</text>
<text x="318.20" y="635.40" font-size="11.6" text-anchor="middle" fill="#2e2a28" stroke="none" letter-spacing="0.4" >(mm)</text>
<text x="404.20" y="615.60" font-size="11.6" text-anchor="middle" fill="#2e2a28" stroke="none" font-weight="400" >标尺刻度</text>
<text x="404.20" y="628.00" font-size="11.6" text-anchor="middle" fill="#2e2a28" stroke="none" font-weight="400" >最小读取量</text>
<text x="404.20" y="640.20" font-size="11.6" text-anchor="middle" fill="#2e2a28" stroke="none" letter-spacing="0.4" >(mm)</text>
<text x="498.10" y="615.60" font-size="11.6" text-anchor="middle" fill="#2e2a28" stroke="none" font-weight="400" >移动精度</text>
<text x="498.10" y="628.00" font-size="11.6" text-anchor="middle" fill="#2e2a28" stroke="none" font-weight="400" >(直线度)</text>
<text x="498.10" y="640.20" font-size="11.6" text-anchor="middle" fill="#2e2a28" stroke="none" letter-spacing="0.4" >(μm)</text>
<text x="592.10" y="615.60" font-size="11.6" text-anchor="middle" fill="#2e2a28" stroke="none" font-weight="400" >旋钮旋转</text>
<text x="592.10" y="628.00" font-size="11.6" text-anchor="middle" fill="#2e2a28" stroke="none" font-weight="400" >1圈移动量</text>
<text x="592.10" y="640.20" font-size="11.6" text-anchor="middle" fill="#2e2a28" stroke="none" letter-spacing="0.4" >(mm)</text>
<text x="675.70" y="622.00" font-size="11.6" text-anchor="middle" fill="#2e2a28" stroke="none" font-weight="400" >水平耐负载</text>
<text x="675.70" y="634.20" font-size="11.6" text-anchor="middle" fill="#2e2a28" stroke="none" >(N)</text>
<text x="756.10" y="621.00" font-size="11.6" text-anchor="middle" fill="#2e2a28" stroke="none" font-weight="400" >主体重量</text>
<text x="756.10" y="635.20" font-size="11.6" text-anchor="middle" fill="#2e2a28" stroke="none" >(Kg)</text>
<text x="60.00" y="682.20" font-size="11.5" text-anchor="middle" fill="#f08300" stroke="none" font-weight="700" letter-spacing="1.2" >DJN21</text>
<text x="150.30" y="658.65" font-size="11" text-anchor="middle" fill="#f08300" stroke="none" font-weight="700" letter-spacing="1" >40</text>
<text x="214.20" y="658.65" font-size="11" text-anchor="start" fill="#2e2a28" stroke="none" letter-spacing="0.6" >25×42</text>
<text x="308.90" y="658.65" font-size="11" text-anchor="start" fill="#2e2a28" stroke="none" letter-spacing="0.3" >±12</text>
<text x="744.60" y="658.65" font-size="11" text-anchor="start" fill="#2e2a28" stroke="none" letter-spacing="0.5" >0.17</text>
<text x="150.30" y="674.25" font-size="11" text-anchor="middle" fill="#f08300" stroke="none" font-weight="700" letter-spacing="1" >60</text>
<text x="214.20" y="674.25" font-size="11" text-anchor="start" fill="#2e2a28" stroke="none" letter-spacing="0.6" >40×60</text>
<text x="308.90" y="674.25" font-size="11" text-anchor="start" fill="#2e2a28" stroke="none" letter-spacing="0.3" >±21</text>
<text x="744.60" y="674.25" font-size="11" text-anchor="start" fill="#2e2a28" stroke="none" letter-spacing="0.5" >0.29</text>
<text x="150.30" y="689.90" font-size="11" text-anchor="middle" fill="#f08300" stroke="none" font-weight="700" letter-spacing="1" >90</text>
<text x="214.20" y="689.90" font-size="11" text-anchor="start" fill="#2e2a28" stroke="none" letter-spacing="0.6" >40×90</text>
<text x="308.90" y="689.90" font-size="11" text-anchor="start" fill="#2e2a28" stroke="none" letter-spacing="0.3" >±35</text>
<text x="744.60" y="689.90" font-size="11" text-anchor="start" fill="#2e2a28" stroke="none" letter-spacing="0.5" >0.4</text>
<text x="150.30" y="705.45" font-size="11" text-anchor="middle" fill="#f08300" stroke="none" font-weight="700" letter-spacing="1" >140</text>
<text x="214.20" y="705.45" font-size="11" text-anchor="start" fill="#2e2a28" stroke="none" letter-spacing="0.6" >40×140</text>
<text x="308.90" y="705.45" font-size="11" text-anchor="start" fill="#2e2a28" stroke="none" letter-spacing="0.3" >±60</text>
<text x="744.60" y="705.45" font-size="11" text-anchor="start" fill="#2e2a28" stroke="none" letter-spacing="0.5" >0.56</text>
<text x="404.60" y="682.00" font-size="11" text-anchor="middle" fill="#2e2a28" stroke="none" letter-spacing="0.5" >0.1</text>
<text x="498.10" y="682.00" font-size="11" text-anchor="middle" fill="#2e2a28" stroke="none" letter-spacing="0.5" >30</text>
<text x="592.90" y="682.00" font-size="11" text-anchor="middle" fill="#2e2a28" stroke="none" letter-spacing="0.5" >18</text>
<text x="676.10" y="658.70" font-size="11" text-anchor="middle" fill="#2e2a28" stroke="none" letter-spacing="0.5" >29.4</text>
<text x="676.10" y="690.00" font-size="11" text-anchor="middle" fill="#2e2a28" stroke="none" letter-spacing="0.5" >39.2</text>
</svg>
</body></html>
